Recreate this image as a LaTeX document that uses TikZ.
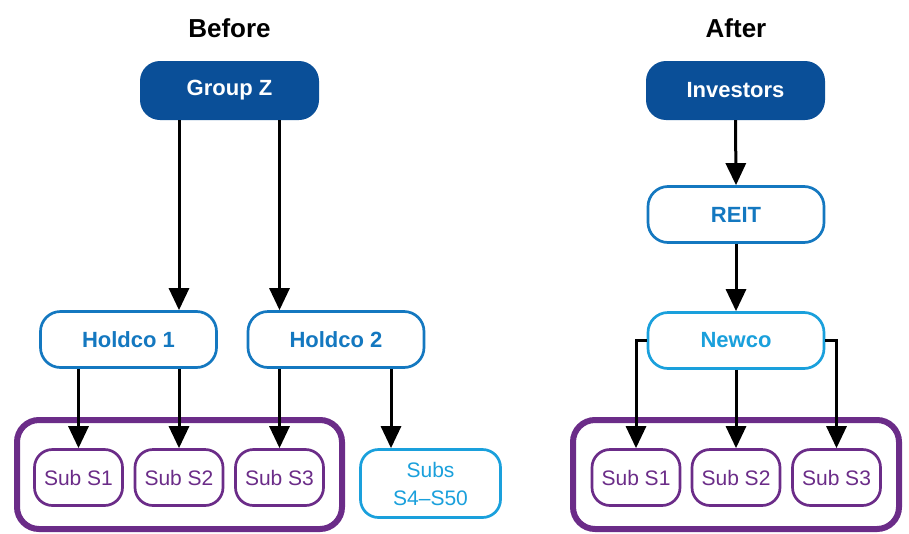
\documentclass[tikz,border=0pt]{standalone}
\usepackage{fontspec}
\setmainfont{Liberation Sans}
\usetikzlibrary{arrows.meta}

\definecolor{darkblue}{HTML}{0A4F98}
\definecolor{midblue}{HTML}{1478C0}
\definecolor{lightblue}{HTML}{1AA0DC}
\definecolor{kpurple}{HTML}{6B2C88}

\tikzset{
  title/.style={font=\fontsize{26}{30}\selectfont\bfseries, text=black},
  topbox/.style={fill=darkblue, text=white, rounded corners=20pt,
    minimum width=179pt, minimum height=59pt, inner sep=0pt,
    font=\fontsize{22}{26}\selectfont\bfseries},
  midbox/.style={draw=midblue, line width=2.7pt, fill=white, text=midblue,
    rounded corners=20pt, minimum width=176pt, minimum height=56pt, inner sep=0pt,
    font=\fontsize{22}{26}\selectfont\bfseries},
  newbox/.style={midbox, draw=lightblue, text=lightblue},
  subbox/.style={draw=kpurple, line width=2.7pt, fill=white, text=kpurple,
    rounded corners=18pt, minimum width=88pt, minimum height=56pt, inner sep=0pt,
    font=\fontsize{21}{25}\selectfont},
  restbox/.style={draw=lightblue, line width=2.7pt, fill=white, text=lightblue,
    rounded corners=18pt, minimum width=140pt, minimum height=68pt, inner sep=0pt,
    align=center, font=\fontsize{21}{28}\selectfont},
  groupframe/.style={draw=kpurple, line width=6pt, rounded corners=22pt},
  arr/.style={line width=3pt, -{Triangle[width=20pt,length=22pt]}},
  link/.style={line width=3pt},
}

\begin{document}
\begin{tikzpicture}[x=1pt, y=-1pt]
\useasboundingbox (0,0) rectangle (909,533);

% ---- Before ----
\node[title] (tb) at (229.5,28) {Before};
\draw[groupframe] (17,420) rectangle (342,529);
\node[topbox] (gz) at (229.5,90.5) {Group Z};
\node[midbox] (h1) at (128.5,339.5) {Holdco 1};
\node[midbox] (h2) at (336,339.5) {Holdco 2};
\node[subbox] (b1) at (78.5,477.5) {Sub S1};
\node[subbox] (b2) at (179,477.5) {Sub S2};
\node[subbox] (b3) at (279.5,477.5) {Sub S3};
\node[restbox] (s4) at (430.5,483.5) {Subs\\S4–S50};

\draw[arr] (b2.north |- gz.south) -- (b2.north |- h1.north);
\draw[arr] (b3.north |- gz.south) -- (b3.north |- h2.north);
\draw[arr] (b1.north |- h1.south) -- (b1.north);
\draw[arr] (b2.north |- h1.south) -- (b2.north);
\draw[arr] (b3.north |- h2.south) -- (b3.north);
\draw[arr] ([xshift=55pt]h2.south) -- ([xshift=55pt]h2.south |- s4.north);

% ---- After ----
\node[title] (ta) at (736,28) {After};
\draw[groupframe] (573,420) rectangle (899,529);
\node[topbox] (inv) at (735.5,90.5) {Investors};
\node[midbox] (reit) at (736,214.5) {REIT};
\node[newbox] (nw) at (736,340.5) {Newco};
\node[subbox] (a1) at (636,477.5) {Sub S1};
\node[subbox] (a2) at (736,477.5) {Sub S2};
\node[subbox] (a3) at (836.5,477.5) {Sub S3};

\draw[arr] (inv.south) -- (reit.north);
\draw[arr] (reit.south) -- (nw.north);
\draw[arr] (nw.west) -| (a1.north);
\draw[arr] (nw.south) -- (a2.north);
\draw[arr] (nw.east) -| (a3.north);
\end{tikzpicture}
\end{document}
